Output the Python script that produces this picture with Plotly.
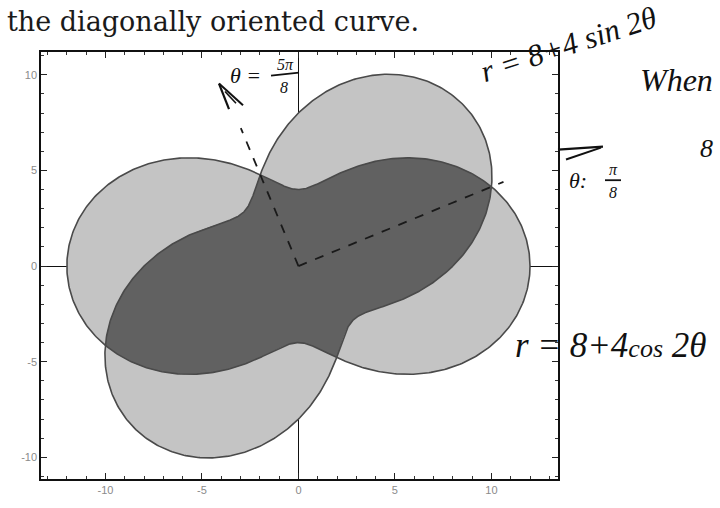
import numpy as np
import plotly.graph_objects as go

# Polar curves r = BASE + AMP*cos(2θ) and r = BASE + AMP*sin(2θ)
BASE = 8
AMP = 4
N_PTS = 721
# directions of the marked rays (θ = π/8 and θ = 5π/8)
RAY_ANGLES = [np.pi / 8, 5 * np.pi / 8]
RAY_LENGTHS = [11.5, 7.8]

X_TICKS = [-10, -5, 0, 5, 10]
X_TICK_TEXT = ["-10", "-5", "0", "5", "10"]
Y_TICKS = [-10, -5, 0, 5, 10]
Y_TICK_TEXT = ["-10", "-5", "0", "5", "10"]

theta = np.linspace(0, 2 * np.pi, N_PTS)
r_cos = BASE + AMP * np.cos(2 * theta)
r_sin = BASE + AMP * np.sin(2 * theta)
r_both = np.minimum(r_cos, r_sin)


def xy(r, t):
    return r * np.cos(t), r * np.sin(t)


LIGHT = "#c4c4c4"
DARK = "#616161"
EDGE = "#4a4a4a"

fig = go.Figure()
xc, yc = xy(r_cos, theta)
xs, ys = xy(r_sin, theta)
xb, yb = xy(r_both, theta)
fig.add_trace(go.Scatter(x=xc, y=yc, fill="toself", fillcolor=LIGHT, mode="none", hoverinfo="skip"))
fig.add_trace(go.Scatter(x=xs, y=ys, fill="toself", fillcolor=LIGHT, mode="none", hoverinfo="skip"))
fig.add_trace(go.Scatter(x=xb, y=yb, fill="toself", fillcolor=DARK, mode="none", hoverinfo="skip"))
fig.add_trace(go.Scatter(x=xc, y=yc, mode="lines", line=dict(color=EDGE, width=1.6), hoverinfo="skip"))
fig.add_trace(go.Scatter(x=xs, y=ys, mode="lines", line=dict(color=EDGE, width=1.6), hoverinfo="skip"))

# hand-drawn dashed rays from the origin
for ang, length in zip(RAY_ANGLES, RAY_LENGTHS):
    rx, ry = xy(np.array([0.0, length]), ang)
    fig.add_trace(go.Scatter(x=rx, y=ry, mode="lines",
                             line=dict(color="#1a1a1a", width=1.8, dash="dash"),
                             hoverinfo="skip"))

# plot area in pixels
L, R, T, B = 41, 558, 52, 485


def px(x):
    return (x - L) / (R - L)


def py(y):
    return (B - y) / (B - T)


HAND = dict(family="Liberation Serif", color="#111111")


def note(text, x, y, size, angle=0, xanchor="center"):
    fig.add_annotation(text=text, x=px(x), y=py(y), xref="paper", yref="paper",
                       showarrow=False, textangle=angle, xanchor=xanchor, yanchor="middle",
                       font=dict(size=size, **HAND))


def stroke(x0, y0, x1, y1, w=2.0):
    fig.add_shape(type="line", xref="paper", yref="paper",
                  x0=px(x0), y0=py(y0), x1=px(x1), y1=py(y1),
                  line=dict(color="#111111", width=w))


# printed caption line
fig.add_annotation(text="the diagonally oriented curve.", x=px(5), y=py(21), xref="paper", yref="paper",
                   showarrow=False, xanchor="left", yanchor="middle",
                   font=dict(family="DejaVu Serif", size=27, color="#1a1a1a"))

# handwritten notes
note("<i>r = 8+4 sin 2θ</i>", 568, 44, 31, angle=-18)
note("<i>When</i>", 638, 80, 32, xanchor="left")
note("<i>8</i>", 706, 150, 26)
note("<i>r = 8+4<span style='font-size:26px'>cos</span> 2θ</i>", 513, 350, 35, xanchor="left")

note("<i>θ =</i>", 245, 76, 22)
note("<i>5π</i>", 285, 65, 16)
note("<i>8</i>", 284, 88, 16)
stroke(271, 76, 299, 73, 1.8)

note("<i>θ:</i>", 578, 182, 22)
note("<i>π</i>", 613, 171, 16)
note("<i>8</i>", 613, 194, 16)
stroke(605, 182, 621, 182, 1.8)

# arrow marks at the ends of the rays
stroke(558, 151, 603, 148, 2.2)
stroke(566, 161, 601, 149, 2.0)
stroke(219, 84, 229, 110, 2.2)
stroke(219, 84, 243, 106, 2.0)
stroke(225, 92, 236, 104, 1.6)

axis_common = dict(
    showgrid=False, showline=True, linecolor="#111111", linewidth=1.5, mirror="ticks",
    ticks="inside", ticklen=6, tickwidth=1.2, tickcolor="#222222",
    minor=dict(dtick=1, ticks="inside", ticklen=3, tickwidth=1, tickcolor="#333333"),
    zeroline=True, zerolinecolor="#111111", zerolinewidth=1.4,
    tickfont=dict(family="Liberation Sans", size=11, color="#8a8a8a"),
)

fig.update_layout(
    width=720, height=508,
    margin=dict(l=L, r=720 - R, t=T, b=508 - B),
    paper_bgcolor="white", plot_bgcolor="white",
    showlegend=False,
    xaxis=dict(range=[-13.34, 13.45], tickvals=X_TICKS, ticktext=X_TICK_TEXT, **axis_common),
    yaxis=dict(range=[-11.13, 11.19], tickvals=Y_TICKS, ticktext=Y_TICK_TEXT, **axis_common),
)

fig.write_html("out.html")
